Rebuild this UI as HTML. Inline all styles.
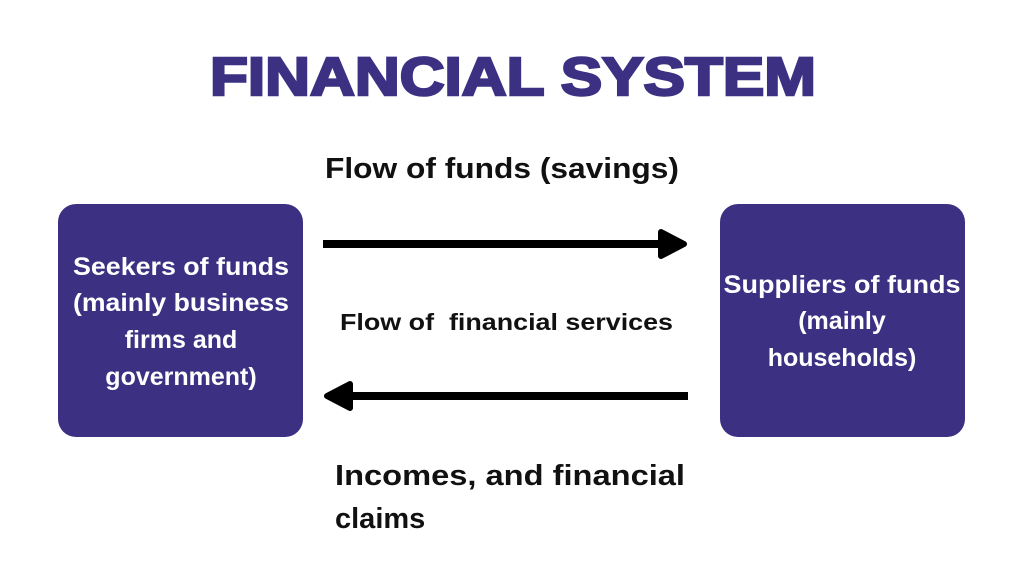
<!DOCTYPE html>
<html><head><meta charset="utf-8"><style>html,body{margin:0;padding:0;background:#fff}</style></head>
<body>
<svg width="1024" height="576" viewBox="0 0 1024 576" xmlns="http://www.w3.org/2000/svg" font-family="Liberation Sans, sans-serif" font-weight="bold">
<text x="513" y="95" text-anchor="middle" font-size="54" fill="#3b3082" stroke="#3b3082" stroke-width="2.5" textLength="606" lengthAdjust="spacingAndGlyphs">FINANCIAL SYSTEM</text>
<rect x="58" y="204" width="245" height="233" rx="18" fill="#3b3082"/>
<rect x="720" y="204" width="245" height="233" rx="18" fill="#3b3082"/>
<g fill="#fff" font-size="25" text-anchor="middle">
<text x="181" y="275" textLength="216" lengthAdjust="spacingAndGlyphs">Seekers of funds</text>
<text x="181" y="311" textLength="216" lengthAdjust="spacingAndGlyphs">(mainly business</text>
<text x="181" y="348">firms and</text>
<text x="181" y="385">government)</text>
<text x="842" y="293" textLength="237" lengthAdjust="spacingAndGlyphs">Suppliers of funds</text>
<text x="842" y="329">(mainly</text>
<text x="842" y="366">households)</text>
</g>
<g fill="#111">
<text x="325" y="178" font-size="29" textLength="354" lengthAdjust="spacingAndGlyphs">Flow of funds (savings)</text>
<text x="340" y="330" font-size="23" textLength="333" lengthAdjust="spacingAndGlyphs" xml:space="preserve">Flow of  financial services</text>
<text x="335" y="485" font-size="29" textLength="350" lengthAdjust="spacingAndGlyphs">Incomes, and financial</text>
<text x="335" y="528" font-size="29">claims</text>
</g>
<line x1="323" y1="244" x2="665" y2="244" stroke="#000" stroke-width="8"/>
<path d="M661,232 L684,244 L661,256 Z" fill="#000" stroke="#000" stroke-width="6" stroke-linejoin="round"/>
<line x1="345" y1="396" x2="688" y2="396" stroke="#000" stroke-width="8"/>
<path d="M350,384 L327,396 L350,408 Z" fill="#000" stroke="#000" stroke-width="6" stroke-linejoin="round"/>
</svg>
</body></html>
